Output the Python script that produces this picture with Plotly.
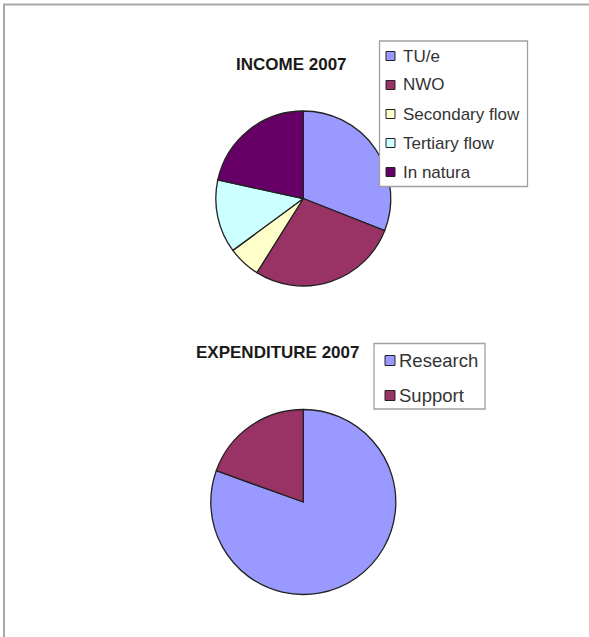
import plotly.graph_objects as go

# ---- data ----
income_labels = ["TU/e", "NWO", "Secondary flow", "Tertiary flow", "In natura"]
income_values = [31.0, 27.9, 6.0, 13.5, 21.6]
income_colors = ["#9999FF", "#993366", "#FFFFCC", "#CCFFFF", "#660066"]

exp_labels = ["Research", "Support"]
exp_values = [80.5, 19.5]
exp_colors = ["#9999FF", "#993366"]

income_title = "INCOME 2007"
exp_title = "EXPENDITURE 2007"

W, H = 589, 637


def px(x):
    return x / W


def py(y):
    return 1 - y / H


def domain(cx, cy, r):
    return dict(x=[px(cx - r), px(cx + r)], y=[py(cy + r), py(cy - r)])


fig = go.Figure()
fig.add_trace(go.Pie(
    labels=income_labels, values=income_values,
    marker=dict(colors=income_colors, line=dict(color="#222222", width=1.3)),
    sort=False, direction="clockwise", rotation=0,
    textinfo="none", hoverinfo="label+percent", showlegend=False,
    domain=domain(303.3, 198.5, 87.5),
))
fig.add_trace(go.Pie(
    labels=exp_labels, values=exp_values,
    marker=dict(colors=exp_colors, line=dict(color="#222222", width=1.3)),
    sort=False, direction="clockwise", rotation=0,
    textinfo="none", hoverinfo="label+percent", showlegend=False,
    domain=domain(303.3, 502.0, 92.5),
))

shapes = []
annotations = []

# outer frame (top and left edges)
shapes.append(dict(type="line", xref="paper", yref="paper",
                   x0=px(3), x1=px(W), y0=py(4.5), y1=py(4.5),
                   line=dict(color="#a8a8a8", width=2)))
shapes.append(dict(type="line", xref="paper", yref="paper",
                   x0=px(4), x1=px(4), y0=py(4), y1=py(H),
                   line=dict(color="#a8a8a8", width=2)))

# titles
annotations.append(dict(text="<b>" + income_title + "</b>", xref="paper", yref="paper",
                        x=px(291.3), y=py(64.5), xanchor="center", yanchor="middle",
                        showarrow=False, font=dict(family="Liberation Sans, Arial", size=17, color="#1a1a1a")))
annotations.append(dict(text="<b>" + exp_title + "</b>", xref="paper", yref="paper",
                        x=px(277.5), y=py(352.5), xanchor="center", yanchor="middle",
                        showarrow=False, font=dict(family="Liberation Sans, Arial", size=17, color="#1a1a1a")))


def legend(labels, colors, box, first_y, step, sw_x, sw, text_x, fsize):
    x0, y0, x1, y1 = box
    shapes.append(dict(type="rect", xref="paper", yref="paper",
                       x0=px(x0), x1=px(x1), y0=py(y1), y1=py(y0),
                       line=dict(color="#a0a0a0", width=1.3), fillcolor="white", layer="above"))
    for i, (lab, col) in enumerate(zip(labels, colors)):
        cy = first_y + i * step
        shapes.append(dict(type="rect", xref="paper", yref="paper",
                           x0=px(sw_x), x1=px(sw_x + sw), y0=py(cy + sw / 2), y1=py(cy - sw / 2),
                           line=dict(color="#222222", width=1), fillcolor=col, layer="above"))
        annotations.append(dict(text=lab, xref="paper", yref="paper",
                                x=px(text_x), y=py(cy), xanchor="left", yanchor="middle",
                                showarrow=False,
                                font=dict(family="Liberation Sans, Arial", size=fsize, color="#333333")))


legend(income_labels, income_colors, (379.5, 41, 527.5, 186.5), 56, 29, 386, 9, 401, 17)
legend(exp_labels, exp_colors, (374, 343.5, 485, 409), 360.5, 35, 385, 10, 397, 18.5)

fig.update_layout(
    width=W, height=H,
    margin=dict(l=0, r=0, t=0, b=0),
    paper_bgcolor="white", plot_bgcolor="white",
    shapes=shapes, annotations=annotations,
    showlegend=False,
)

fig.write_html(
    "out.html",
    config={"displayModeBar": False},
    post_script="document.body.style.margin='0';document.body.style.padding='0';document.body.style.overflow='hidden';",
)
